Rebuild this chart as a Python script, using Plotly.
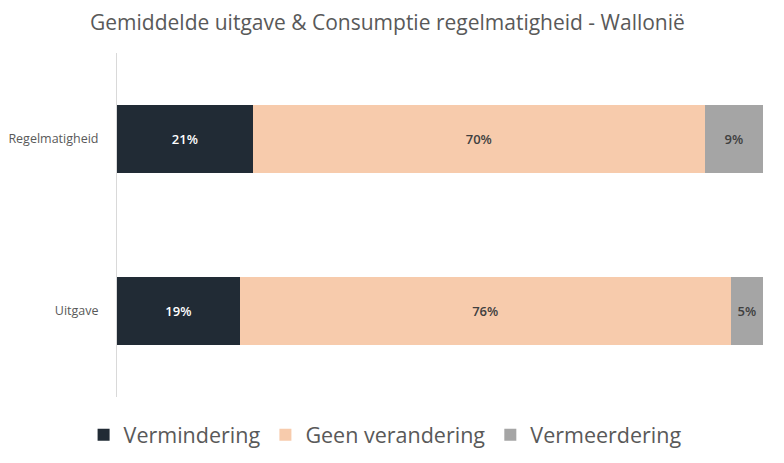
import plotly.graph_objects as go

categories = ["Uitgave", "Regelmatigheid"]
series_names = ["Vermindering", "Geen verandering", "Vermeerdering"]
vermindering = [19, 21]
geen_verandering = [76, 70]
vermeerdering = [5, 9]
values = [vermindering, geen_verandering, vermeerdering]
colors = ["#212b35", "#f7cbac", "#a5a5a5"]
text_colors = ["#ffffff", "#404040", "#404040"]

fig = go.Figure()
for name, vals, col, tc in zip(series_names, values, colors, text_colors):
    fig.add_trace(go.Bar(
        y=categories, x=vals, name=name, orientation="h",
        marker=dict(color=col, line=dict(width=0)),
        text=[f"{v}%" for v in vals], textposition="inside",
        insidetextanchor="middle",
        textfont=dict(color=tc, size=13, family="Open Sans", weight=600),
        hoverinfo="skip",
    ))

fig.update_layout(
    barmode="stack",
    width=784, height=463,
    margin=dict(l=109, r=29, t=45, b=74),
    paper_bgcolor="white", plot_bgcolor="white",
    bargap=0.605,
    title=dict(text="Gemiddelde uitgave & Consumptie regelmatigheid - Wallonië",
               x=0.484, xanchor="center", y=0.985, yanchor="top",
               font=dict(family="Open Sans", size=21, color="#595959")),
    font=dict(family="Open Sans", color="#595959"),
    xaxis=dict(range=[0, 100], showgrid=False, zeroline=False,
               showticklabels=False, showline=False, fixedrange=True,
               automargin=False),
    yaxis=dict(showline=True, linecolor="#d9d9d9", linewidth=1,
               ticks="", tickfont=dict(size=12.5, color="#595959"),
               ticklabelstandoff=15, showgrid=False, automargin=False),
    legend=dict(orientation="h", x=0.415, xanchor="center", y=-0.11, yanchor="middle",
                font=dict(size=21.5, color="#595959", family="Open Sans"),
                traceorder="normal", itemwidth=30),
    uniformtext=dict(minsize=8),
)

fig.write_html("out.html")
